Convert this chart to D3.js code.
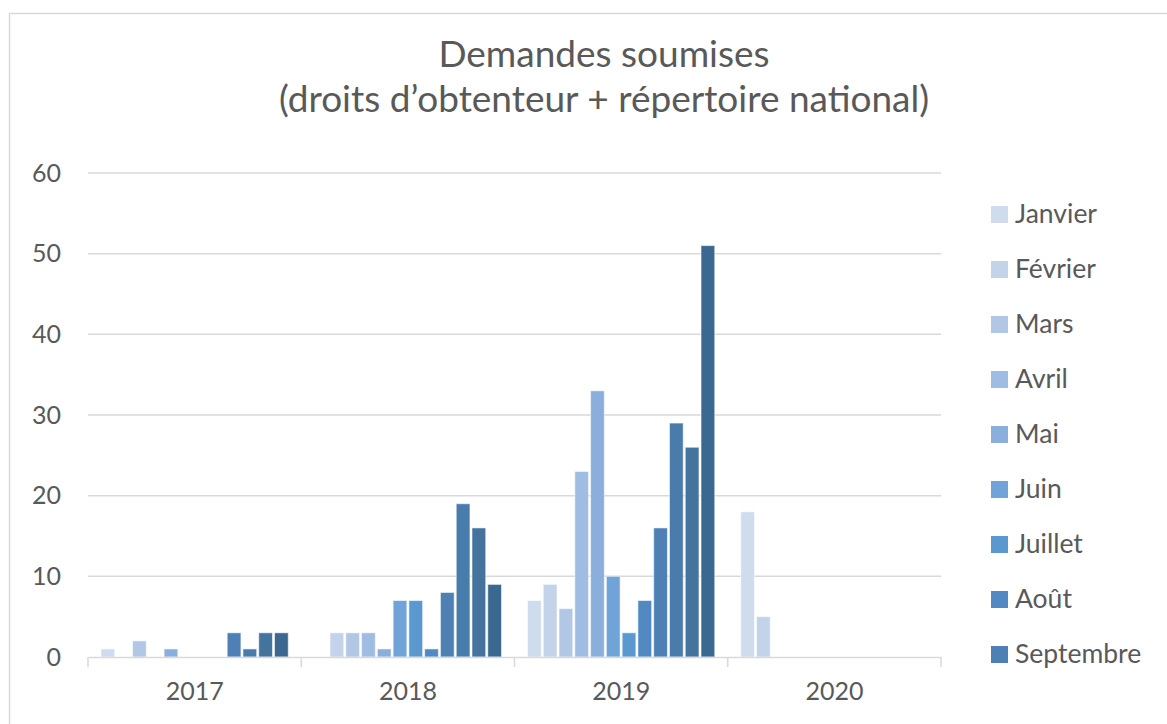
<!DOCTYPE html>
<html>
<head>
<meta charset="utf-8">
<script src="https://cdn.jsdelivr.net/npm/d3@7"></script>
<style>
  body { margin: 0; background: #fff; }
  text { font-family: Lato, "Open Sans", sans-serif; fill: #595959; }
</style>
</head>
<body>
<div id="chart"></div>
<script>
const years = ["2017", "2018", "2019", "2020"];
const months = ["Janvier", "Février", "Mars", "Avril", "Mai", "Juin", "Juillet",
  "Août", "Septembre", "Octobre", "Novembre", "Décembre"];
// values per year, one per month
const values2017 = [1, 0, 2, 0, 1, 0, 0, 0, 3, 1, 3, 3];
const values2018 = [0, 3, 3, 3, 1, 7, 7, 1, 8, 19, 16, 9];
const values2019 = [7, 9, 6, 23, 33, 10, 3, 7, 16, 29, 26, 51];
const values2020 = [18, 5, 0, 0, 0, 0, 0, 0, 0, 0, 0, 0];
const monthColors = ["#cfdcee", "#c3d3ea", "#b2c7e6", "#9fbce2", "#8bafdc", "#70a3d8",
  "#5c98d0", "#5289c2", "#4e80b5", "#4a7cab", "#44739e", "#3b6890"];
const yTicks = [0, 10, 20, 30, 40, 50, 60];
const legendCount = 9; // only the first 9 months fit in the legend box

const seriesByYear = [values2017, values2018, values2019, values2020];

const W = 1167, H = 724;
const svg = d3.select("#chart").append("svg")
  .attr("width", W)
  .attr("height", H);

// chart border
svg.append("rect")
  .attr("x", 9.5).attr("y", 13.5)
  .attr("width", W + 10).attr("height", H + 10)
  .attr("fill", "none")
  .attr("stroke", "#d9d9d9")
  .attr("stroke-width", 1.5);

// title
const title = svg.append("text")
  .attr("text-anchor", "middle")
  .style("font-size", "37px");
title.append("tspan").attr("x", 604).attr("y", 67).text("Demandes soumises");
title.append("tspan").attr("x", 604).attr("y", 112).text("(droits d’obtenteur + répertoire national)");

const plot = { left: 88, right: 941, top: 173, bottom: 657 };

const x0 = d3.scaleBand()
  .domain(years)
  .range([plot.left, plot.right]);

const x1 = d3.scaleBand()
  .domain(months)
  .range([13, x0.bandwidth() - 13])
  .paddingInner(0.13);

const y = d3.scaleLinear()
  .domain([0, 60])
  .range([plot.bottom, plot.top]);

// gridlines
svg.append("g")
  .selectAll("line")
  .data(yTicks.filter(d => d > 0))
  .join("line")
  .attr("x1", plot.left).attr("x2", plot.right)
  .attr("y1", d => y(d)).attr("y2", d => y(d))
  .attr("stroke", "#d9d9d9")
  .attr("stroke-width", 1.5);

// y axis labels
const yAxis = d3.axisLeft(y).tickValues(yTicks).tickSize(0).tickPadding(27);
svg.append("g")
  .attr("transform", "translate(" + plot.left + ",0)")
  .call(yAxis)
  .call(g => g.select(".domain").remove())
  .selectAll("text")
  .style("font-size", "25px")
  .attr("fill", "#595959");

// bars
const groups = svg.append("g")
  .selectAll("g")
  .data(years.map((yr, i) => ({ year: yr, vals: seriesByYear[i] })))
  .join("g")
  .attr("transform", d => "translate(" + x0(d.year) + ",0)");

groups.selectAll("rect")
  .data(d => d.vals.map((v, i) => ({ month: months[i], value: v, i: i })))
  .join("rect")
  .filter(d => d.value > 0)
  .attr("x", d => x1(d.month))
  .attr("width", x1.bandwidth())
  .attr("y", d => y(d.value))
  .attr("height", d => y(0) - y(d.value))
  .attr("fill", d => monthColors[d.i])
  .attr("stroke", "rgba(255,255,255,0.55)")
  .attr("stroke-width", 1);

// x axis
const xAxis = d3.axisBottom(x0).tickSize(0).tickPadding(25);
const xg = svg.append("g")
  .attr("transform", "translate(0," + plot.bottom + ")")
  .call(xAxis);
xg.select(".domain").attr("stroke", "#d9d9d9").attr("stroke-width", 1.5);
xg.selectAll("text").style("font-size", "25px").attr("fill", "#595959");

// category separators
const bounds = years.map(d => x0(d)).concat([plot.right]);
xg.selectAll("line.sep")
  .data(bounds)
  .join("line")
  .attr("class", "sep")
  .attr("x1", d => d).attr("x2", d => d)
  .attr("y1", 0).attr("y2", 10)
  .attr("stroke", "#d9d9d9")
  .attr("stroke-width", 1.5);

// legend
const legend = svg.append("g")
  .selectAll("g")
  .data(months.slice(0, legendCount))
  .join("g")
  .attr("transform", (d, i) => "translate(991," + (206 + i * 55) + ")");

legend.append("rect")
  .attr("width", 17).attr("height", 17)
  .attr("fill", (d, i) => monthColors[i]);

legend.append("text")
  .attr("x", 24).attr("y", 17)
  .style("font-size", "26.5px")
  .text(d => d);
</script>
</body>
</html>
